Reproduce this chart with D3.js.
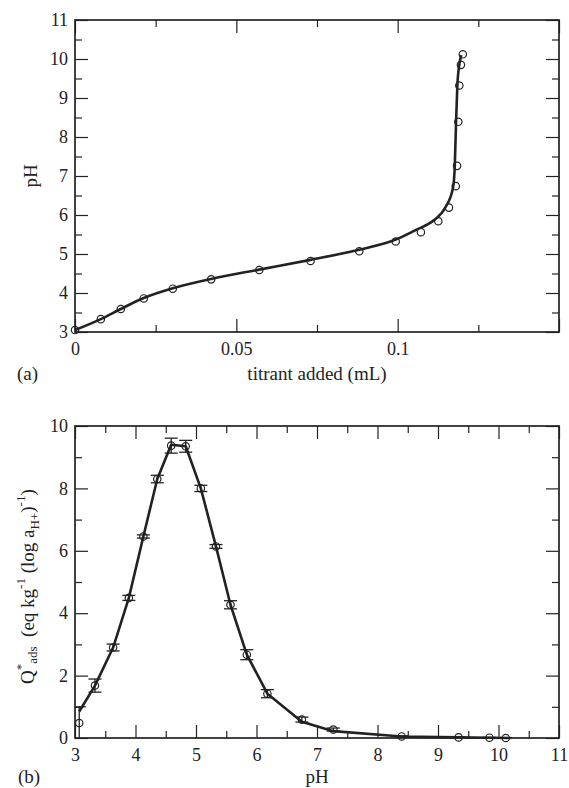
<!DOCTYPE html>
<html>
<head>
<meta charset="utf-8">
<script src="https://cdn.jsdelivr.net/npm/d3@7"></script>
<style>
  body { margin: 0; background: #fff; }
  svg text { font-family: "Liberation Serif", "Times New Roman", serif; fill: #222; }
</style>
</head>
<body>
<svg id="fig" width="569" height="788"></svg>
<script>
// ---- data ----
// (a) titration: titrant volume (mL) vs measured pH
var titrantVol = [0, 0.0080, 0.0142, 0.0213, 0.0303, 0.0422, 0.0571, 0.0730, 0.0881, 0.0994,
                  0.1072, 0.1126, 0.1159, 0.1180, 0.1184, 0.1188, 0.1191, 0.1196, 0.1202];
var measuredPH = [3.05, 3.33, 3.59, 3.86, 4.11, 4.35, 4.59, 4.82, 5.07, 5.32,
                  5.56, 5.84, 6.19, 6.74, 7.26, 8.39, 9.32, 9.85, 10.12];
// fitted curve of (a)
var fitVol = [0, 0.0080, 0.0142, 0.0213, 0.0303, 0.0422, 0.0571, 0.0730, 0.0881, 0.0994,
              0.1057, 0.1113, 0.1149, 0.1172, 0.1177, 0.1181, 0.1185, 0.1191, 0.1197];
var fitPH = [3.05, 3.33, 3.59, 3.87, 4.12, 4.36, 4.60, 4.85, 5.11, 5.37,
             5.62, 5.87, 6.21, 6.72, 7.26, 8.39, 9.32, 9.85, 10.10];

// (b) Q*ads vs pH with error bars
var qPH = [3.07, 3.33, 3.63, 3.89, 4.13, 4.36, 4.59, 4.83, 5.08, 5.33,
           5.57, 5.84, 6.18, 6.75, 7.27, 8.40, 9.34, 9.85, 10.12];
var qAds = [0.48, 1.68, 2.90, 4.49, 6.46, 8.30, 9.37, 9.35, 8.00, 6.14,
            4.27, 2.67, 1.42, 0.59, 0.27, 0.05, 0.02, 0.01, 0.00];
var qErr = [0.52, 0.21, 0.11, 0.08, 0.05, 0.12, 0.24, 0.19, 0.10, 0.06,
            0.13, 0.16, 0.13, 0.08, 0.05, 0.02, 0.01, 0.01, 0.01];
// fitted curve of (b)
var qFitPH = [3.07, 3.33, 3.63, 3.89, 4.13, 4.36, 4.59, 4.83, 5.08, 5.33,
              5.57, 5.84, 6.18, 6.75, 7.27, 8.40, 9.34, 9.85, 10.20];
var qFit = [0.85, 1.68, 2.90, 4.49, 6.46, 8.30, 9.40, 9.35, 8.00, 6.14,
            4.27, 2.67, 1.42, 0.52, 0.22, 0.05, 0.02, 0.01, 0.00];

var svg = d3.select("#fig");
var ink = "#222";

// Draw one framed panel with inward ticks on all four sides.
function panel(box, xDom, yDom, xMajor, xMinor, yMajor, yMinor, xFmt) {
    var x = d3.scaleLinear().domain(xDom).range([box.l, box.r]);
    var y = d3.scaleLinear().domain(yDom).range([box.b, box.t]);
    var g = svg.append("g");
    var big = 13, small = 7;

    function addAxis(axis, tx, ty, vals, size, fmt) {
        var a = g.append("g")
            .attr("transform", "translate(" + tx + "," + ty + ")")
            .call(axis.tickValues(vals).tickSize(size).tickSizeOuter(0).tickPadding(fmt ? 10 : 0)
                .tickFormat(fmt || ""));
        a.select(".domain").remove();
        a.attr("font-family", null);
        a.selectAll("line").attr("stroke", ink).attr("stroke-width", 1.2);
        a.selectAll("text").attr("font-size", 18).attr("fill", ink);
        return a;
    }
    addAxis(d3.axisBottom(x), 0, box.b, xMajor, -big, xFmt);
    addAxis(d3.axisBottom(x), 0, box.b, xMinor, -small);
    addAxis(d3.axisTop(x), 0, box.t, xMajor, -big);
    addAxis(d3.axisTop(x), 0, box.t, xMinor, -small);
    var ya = addAxis(d3.axisLeft(y), box.l, 0, yMajor, -big, d3.format("d"));
    ya.selectAll("text").attr("x", -7);
    addAxis(d3.axisLeft(y), box.l, 0, yMinor, -small);
    addAxis(d3.axisRight(y), box.r, 0, yMajor, -big);
    addAxis(d3.axisRight(y), box.r, 0, yMinor, -small);

    g.append("rect")
        .attr("x", box.l).attr("y", box.t)
        .attr("width", box.r - box.l).attr("height", box.b - box.t)
        .attr("fill", "none").attr("stroke", ink).attr("stroke-width", 1.7);
    return { x: x, y: y, g: g };
}

function range(a, b, s) { return d3.range(a, b + s / 2, s).map(function(v) { return +v.toFixed(4); }); }

// ---- panel (a) ----
var pa = panel({ l: 75, r: 559, t: 20, b: 332 }, [0, 0.15], [3, 11],
    [0, 0.05, 0.1, 0.15], range(0.025, 0.125, 0.05), range(3, 11, 1), range(3.5, 10.5, 1),
    function(d) { return d === 0.15 ? "" : d3.format("")(d); });

var linePts = fitVol.map(function(v, i) { return [v, fitPH[i]]; });
pa.g.append("path")
    .datum(linePts)
    .attr("d", d3.line().x(function(d) { return pa.x(d[0]); }).y(function(d) { return pa.y(d[1]); })
        .curve(d3.curveMonotoneX))
    .attr("fill", "none").attr("stroke", ink).attr("stroke-width", 2.6);

pa.g.selectAll("circle.pt")
    .data(titrantVol)
    .enter().append("circle")
    .attr("cx", function(d) { return pa.x(d); })
    .attr("cy", function(d, i) { return pa.y(measuredPH[i]); })
    .attr("r", 3.7)
    .attr("fill", "none").attr("stroke", ink).attr("stroke-width", 1.2);

svg.append("text").attr("x", 317).attr("y", 380).attr("text-anchor", "middle")
    .attr("font-size", 19).text("titrant added (mL)");
svg.append("text").attr("x", 17).attr("y", 380).attr("font-size", 19).text("(a)");
svg.append("text").attr("transform", "translate(37,176) rotate(-90)")
    .attr("text-anchor", "middle").attr("font-size", 19).text("pH");

// ---- panel (b) ----
var pb = panel({ l: 75, r: 559, t: 426, b: 738 }, [3, 11], [0, 10],
    range(3, 11, 1), range(3.5, 10.5, 1), range(0, 10, 2), range(1, 9, 2), d3.format("d"));

svg.append("clipPath").attr("id", "clipb").append("rect")
    .attr("x", 75).attr("y", 426).attr("width", 484).attr("height", 312);

var qPts = qFitPH.map(function(v, i) { return [v, qFit[i]]; });
pb.g.append("path")
    .datum(qPts)
    .attr("d", d3.line().x(function(d) { return pb.x(d[0]); }).y(function(d) { return pb.y(d[1]); }))
    .attr("fill", "none").attr("stroke", ink).attr("stroke-width", 2.6)
    .attr("stroke-linejoin", "round");

var eb = pb.g.append("g").attr("clip-path", "url(#clipb)")
    .attr("stroke", ink).attr("stroke-width", 1.3).attr("fill", "none");
var cap = 6.5;
qPH.forEach(function(p, i) {
    var cx = pb.x(p), hi = pb.y(qAds[i] + qErr[i]), lo = pb.y(qAds[i] - qErr[i]);
    eb.append("line").attr("x1", cx).attr("x2", cx).attr("y1", hi).attr("y2", lo);
    eb.append("line").attr("x1", cx - cap).attr("x2", cx + cap).attr("y1", hi).attr("y2", hi);
    eb.append("line").attr("x1", cx - cap).attr("x2", cx + cap).attr("y1", lo).attr("y2", lo);
});

pb.g.selectAll("circle.q")
    .data(qPH)
    .enter().append("circle")
    .attr("cx", function(d) { return pb.x(d); })
    .attr("cy", function(d, i) { return pb.y(qAds[i]); })
    .attr("r", 3.7)
    .attr("fill", "none").attr("stroke", ink).attr("stroke-width", 1.2);

svg.append("text").attr("x", 317).attr("y", 783).attr("text-anchor", "middle")
    .attr("font-size", 19).text("pH");
svg.append("text").attr("x", 18).attr("y", 783).attr("font-size", 19).text("(b)");

// y label with super/subscripts
var yl = svg.append("text").attr("transform", "translate(34,684) rotate(-90)")
    .attr("font-size", 19).style("white-space", "pre");
yl.append("tspan").text("Q");
yl.append("tspan").attr("dy", -9).attr("font-size", 13).text("*");
yl.append("tspan").attr("dy", 12).attr("font-size", 13).text("ads");
yl.append("tspan").attr("dy", -3).text("  (eq kg");
yl.append("tspan").attr("dy", -9).attr("font-size", 13).text("-1");
yl.append("tspan").attr("dy", 9).text(" (log a");
yl.append("tspan").attr("dy", 5).attr("font-size", 13).text("H+");
yl.append("tspan").attr("dy", -5).text(")");
yl.append("tspan").attr("dy", -9).attr("font-size", 13).text("-1");
yl.append("tspan").attr("dy", 9).text(")");
</script>
</body>
</html>
